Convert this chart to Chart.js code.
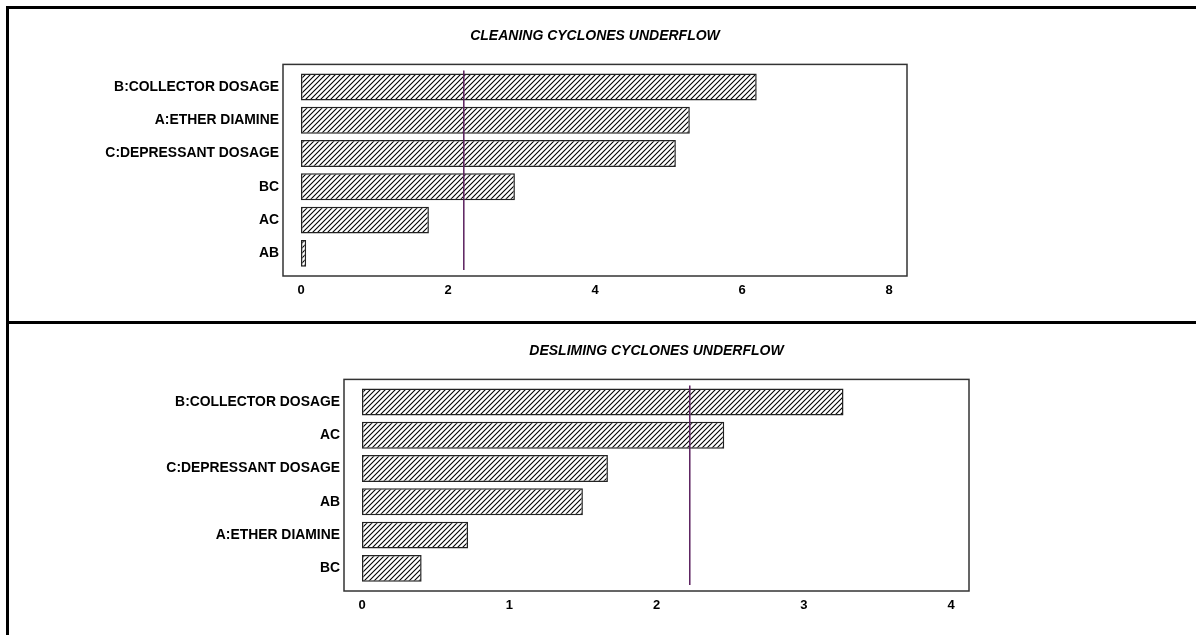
<!DOCTYPE html>
<html>
<head>
<meta charset="utf-8">
<script src="https://cdn.jsdelivr.net/npm/chart.js@4"></script>
<style>
  body { margin: 0; background: #fff; }
  #page { position: relative; width: 1196px; height: 635px; overflow: hidden; }
  .panel { position: absolute; left: 0; width: 1196px; height: 320px; }
  .rule { position: absolute; background: #000; pointer-events: none; }
</style>
</head>
<body>
<div id="page">
  <div class="panel" style="top:0"><canvas id="cleaning" width="1196" height="320"></canvas></div>
  <div class="panel" style="top:315px"><canvas id="desliming" width="1196" height="320"></canvas></div>
  <div class="rule" style="left:6px; top:6px; width:1190px; height:3px"></div>
  <div class="rule" style="left:6px; top:321px; width:1190px; height:3px"></div>
  <div class="rule" style="left:6px; top:6px; width:3px; height:629px"></div>
</div>
<script>
/*  Data  */
const cleaningTitle = "CLEANING CYCLONES UNDERFLOW";
const cleaningFactors = ["B:COLLECTOR DOSAGE", "A:ETHER DIAMINE", "C:DEPRESSANT DOSAGE", "BC", "AC", "AB"];
const cleaningEffects = [6.20, 5.29, 5.10, 2.91, 1.74, 0.07];
const cleaningLimit = 2.215;
const cleaningTicks = [0, 2, 4, 6, 8];

const deslimingTitle = "DESLIMING CYCLONES UNDERFLOW";
const deslimingFactors = ["B:COLLECTOR DOSAGE", "AC", "C:DEPRESSANT DOSAGE", "AB", "A:ETHER DIAMINE", "BC"];
const deslimingEffects = [3.27, 2.46, 1.67, 1.50, 0.72, 0.405];
const deslimingLimit = 2.226;
const deslimingTicks = [0, 1, 2, 3, 4];

/*  Hatch fill  */
function makeHatch() {
    const s = 5;
    const c = document.createElement("canvas");
    c.width = s;
    c.height = s;
    const g = c.getContext("2d");
    g.fillStyle = "#fff";
    g.fillRect(0, 0, s, s);
    g.strokeStyle = "#000";
    g.lineWidth = 1.1;
    g.beginPath();
    g.moveTo(-1, s + 1); g.lineTo(s + 1, -1);
    g.moveTo(-1, 1); g.lineTo(1, -1);
    g.moveTo(s - 1, s + 1); g.lineTo(s + 1, s - 1);
    g.stroke();
    return g.createPattern(c, "repeat");
}

/*  Frame around the plot, a bit wider than the chart area  */
const framePlugin = {
    id: "frame",
    beforeDatasetsDraw(chart) {
        const a = chart.chartArea;
        const ctx = chart.ctx;
        ctx.save();
        ctx.strokeStyle = "#333";
        ctx.lineWidth = 1.5;
        ctx.strokeRect(a.left - 18, a.top - 6, a.right - a.left + 36, a.bottom - a.top + 12);
        ctx.restore();
    }
};

/*  Critical value line  */
const limitPlugin = {
    id: "limit",
    afterDatasetsDraw(chart, args, opts) {
        const a = chart.chartArea;
        const x = chart.scales.x.getPixelForValue(opts.value);
        const ctx = chart.ctx;
        ctx.save();
        ctx.strokeStyle = "#5a1f5e";
        ctx.lineWidth = 1.5;
        ctx.beginPath();
        ctx.moveTo(x, a.top);
        ctx.lineTo(x, a.bottom);
        ctx.stroke();
        ctx.restore();
    }
};

function renderPareto(id, title, labels, data, limit, ticks, padRight, axisWidth) {
    new Chart(document.getElementById(id), {
        type: "bar",
        data: {
            labels,
            datasets: [{
                data,
                backgroundColor: makeHatch(),
                borderColor: "#222",
                borderWidth: 1.5,
                borderSkipped: false,
                categoryPercentage: 1,
                barPercentage: 0.81
            }]
        },
        options: {
            indexAxis: "y",
            responsive: false,
            animation: false,
            layout: { padding: { left: 0, right: padRight, top: 0, bottom: 0 } },
            scales: {
                x: {
                    min: ticks[0],
                    max: ticks[ticks.length - 1],
                    afterBuildTicks: scale => { scale.ticks = ticks.map(v => ({ value: v })); },
                    afterFit: scale => { scale.height = 50; },
                    grid: { display: false, drawTicks: false },
                    border: { display: false },
                    ticks: { color: "#000", padding: 13, font: { family: "Liberation Sans, Arial", size: 13, weight: "bold" } }
                },
                y: {
                    afterFit: scale => { scale.width = axisWidth; },
                    grid: { display: false, drawTicks: false },
                    border: { display: false },
                    ticks: { color: "#000", padding: 22, font: { family: "Liberation Sans, Arial", size: 13.9, weight: "bold" } }
                }
            },
            plugins: {
                legend: { display: false },
                tooltip: { enabled: false },
                title: {
                    display: true,
                    text: title,
                    fullSize: false,
                    color: "#000",
                    padding: { top: 27.6, bottom: 26 },
                    font: { family: "Liberation Sans, Arial", size: 14, weight: "bold", style: "italic" }
                },
                limit: { value: limit }
            }
        },
        plugins: [framePlugin, limitPlugin]
    });
}

renderPareto("cleaning", cleaningTitle, cleaningFactors, cleaningEffects, cleaningLimit, cleaningTicks, 307, 301);
renderPareto("desliming", deslimingTitle, deslimingFactors, deslimingEffects, deslimingLimit, deslimingTicks, 245, 362);
</script>
</body>
</html>
